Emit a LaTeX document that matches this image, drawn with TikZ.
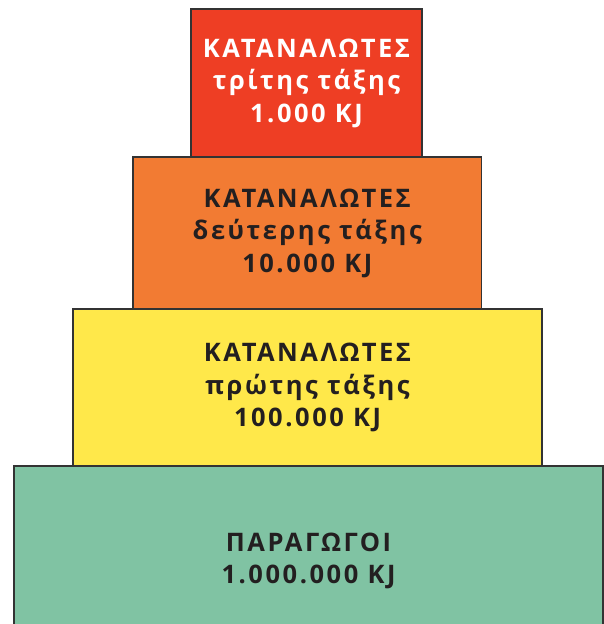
\documentclass[tikz,border=0pt]{standalone}
\usepackage{fontspec}
\newfontfamily\lbl{Open Sans}[LetterSpace=10]
\definecolor{redc}{HTML}{EE3E24}
\definecolor{orangec}{HTML}{F27B33}
\definecolor{yellowc}{HTML}{FFE84A}
\definecolor{greenc}{HTML}{80C3A3}
\definecolor{edge}{HTML}{333333}
\definecolor{ink}{HTML}{231F20}
\tikzset{tier/.style={draw=edge, line width=1.2pt, inner sep=0pt, align=center,
  font=\lbl\bfseries\fontsize{25.5}{32.5}\selectfont, text=ink}}
\begin{document}
\begin{tikzpicture}[x=1pt,y=-1pt]
\useasboundingbox (0,0) rectangle (604,624);
\clip (0,0) rectangle (604,624);
\fill[white] (0,0) rectangle (604,624);
\node[tier, fill=greenc, minimum width=589pt, minimum height=190pt] (p) at (308.5,561)
  {ΠΑΡΑΓΩΓΟΙ\\1.000.000 KJ};
\node[tier, fill=yellowc, minimum width=469pt, minimum height=157pt] (k1) at (307.5,387.5)
  {ΚΑΤΑΝΑΛΩΤΕΣ\\πρώτης τάξης\\100.000 KJ};
\node[tier, fill=orangec, minimum width=348.5pt, minimum height=152pt] (k2) at (307.25,233)
  {ΚΑΤΑΝΑΛΩΤΕΣ\\δεύτερης τάξης\\10.000 KJ};
\node[tier, fill=redc, text=white, minimum width=231pt, minimum height=148pt] (k3) at (306.5,83)
  {ΚΑΤΑΝΑΛΩΤΕΣ\\τρίτης τάξης\\1.000 KJ};
\end{tikzpicture}
\end{document}
